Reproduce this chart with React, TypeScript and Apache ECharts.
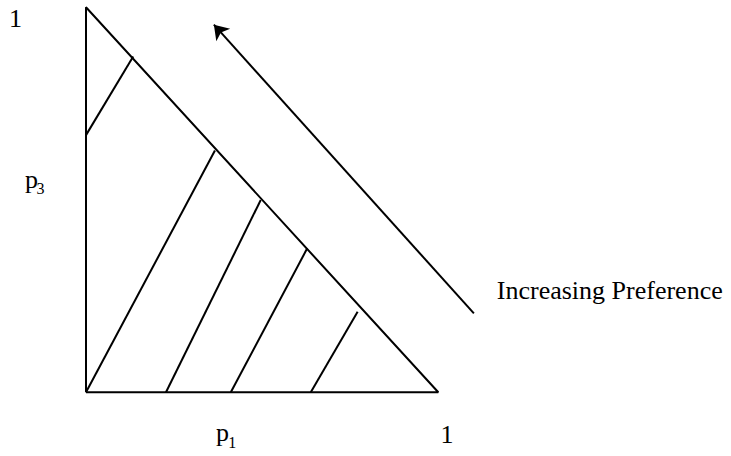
import React, { useEffect, useRef } from "react";
import * as echarts from "echarts";

// Marschak–Machina triangle: x = p1, y = p3
const triangle: number[][] = [[0, 0], [0, 1], [1, 0], [0, 0]];
const indifferenceLines: number[][][] = [
  [[0, 0.668], [0.134, 0.872]],
  [[0, 0], [0.366, 0.628]],
  [[0.227, 0], [0.496, 0.4995]],
  [[0.411, 0], [0.628, 0.374]],
  [[0.638, 0], [0.771, 0.209]],
];
const preferenceArrow: number[][] = [[1.101, 0.205], [0.363, 0.955]];
const axisEndLabel = "1";
const yLabel = { main: "p", sub: "3" };
const xLabel = { main: "p", sub: "1" };
const arrowLabel = "Increasing Preference";

const FONT = "Times New Roman, Liberation Serif, Times, serif";

export default function App() {
  const ref = useRef<HTMLDivElement>(null);
  useEffect(() => {
    document.body.style.margin = "0";
    if (!ref.current) return;
    const chart = echarts.init(ref.current, undefined, { renderer: "svg" });
    const txt = (text: string, x: number, y: number, size: number) => ({
      type: "text",
      x,
      y,
      style: {
        text,
        fill: "#000",
        fontFamily: FONT,
        fontSize: size,
        fontWeight: "normal",
        align: "left",
        verticalAlign: "middle",
      },
    });
    chart.setOption({
      animation: false,
      backgroundColor: "#fff",
      textStyle: { fontFamily: FONT },
      grid: { left: 86, top: 7.3, width: 352.3, height: 385 },
      xAxis: { type: "value", min: 0, max: 1, show: false },
      yAxis: { type: "value", min: 0, max: 1, show: false },
      series: [
        {
          type: "line",
          data: triangle,
          symbol: "none",
          clip: false,
          lineStyle: { color: "#000", width: 2 },
        },
        {
          type: "lines",
          coordinateSystem: "cartesian2d",
          clip: false,
          lineStyle: { color: "#000", width: 2, opacity: 1 },
          data: indifferenceLines.map((c) => ({ coords: c })),
        },
        {
          type: "lines",
          coordinateSystem: "cartesian2d",
          clip: false,
          symbol: ["none", "arrow"],
          symbolSize: 14,
          lineStyle: { color: "#000", width: 2, opacity: 1 },
          data: [{ coords: preferenceArrow }],
        },
      ],
      graphic: [
        txt(axisEndLabel, 9, 18.9, 26),
        txt(yLabel.main, 25, 179.9, 26),
        txt(yLabel.sub, 36.6, 188.6, 16),
        txt(xLabel.main, 216, 432.5, 26),
        txt(xLabel.sub, 228.2, 442.6, 16),
        txt(axisEndLabel, 440.5, 434.7, 26),
        txt(arrowLabel, 496.8, 290.5, 26),
      ],
    });
    return () => chart.dispose();
  }, []);
  return <div ref={ref} style={{ width: 731, height: 456 }} />;
}
